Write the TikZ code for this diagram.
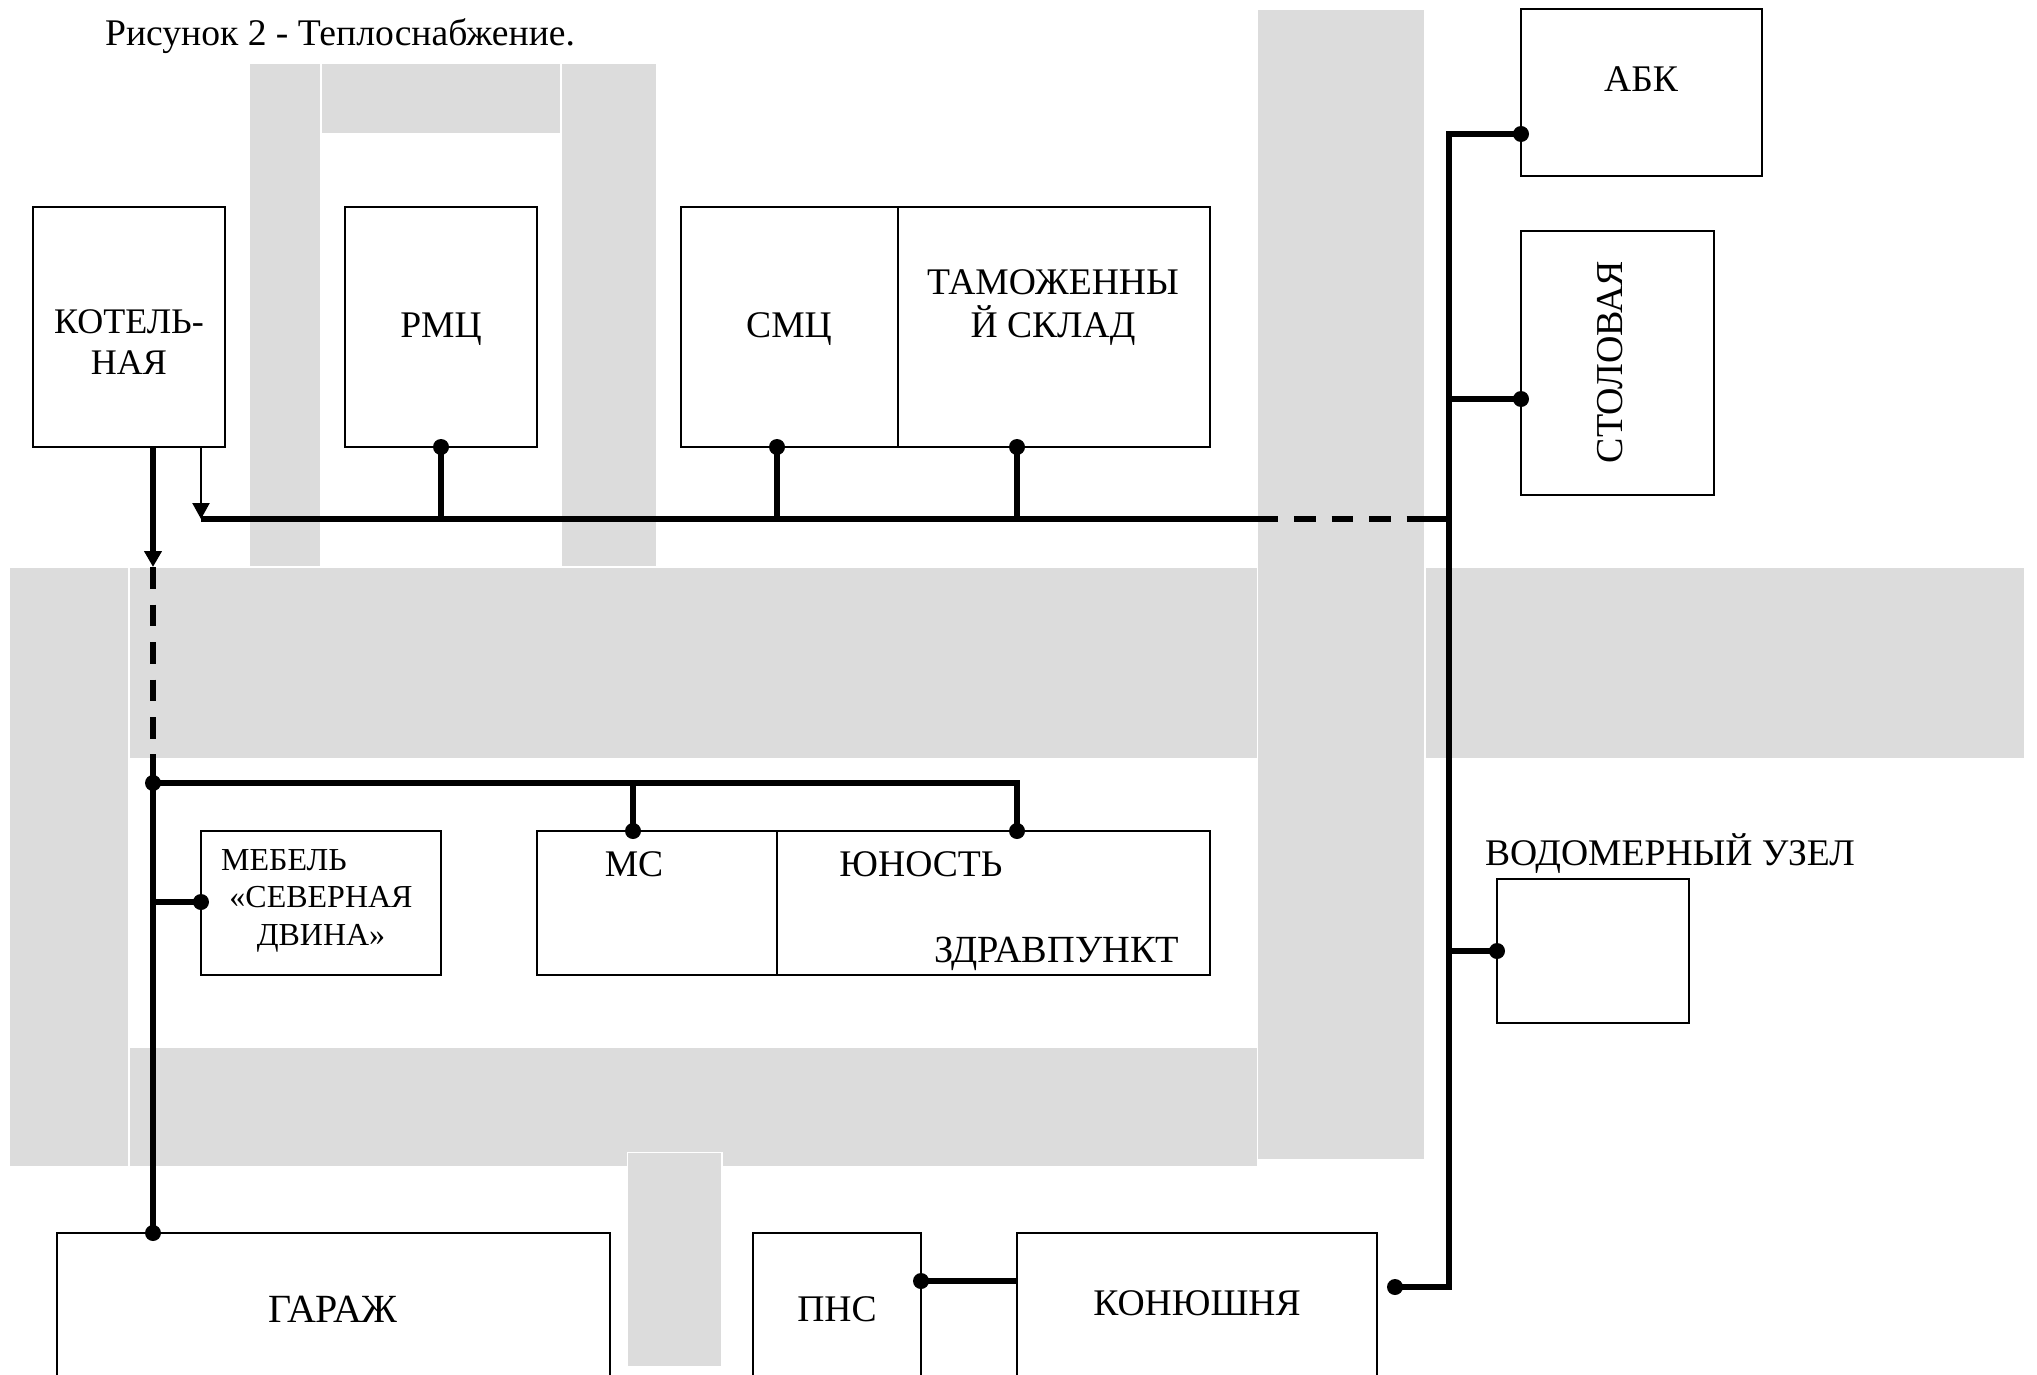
\documentclass[tikz,border=0pt]{standalone}
\usepackage{fontspec}
\setmainfont{Liberation Serif}
\usetikzlibrary{arrows.meta,calc}
\definecolor{road}{HTML}{DCDCDC}
\tikzset{
  x=1pt,y=-1pt,
  road/.style={fill=road,draw=none},
  roadw/.style={fill=road,draw=white,line width=1.5pt},
  bld/.style={draw=black,line width=2.4pt,fill=white,anchor=north west,inner sep=0pt,outer sep=0pt},
  lab/.style={font=\fontsize{37.6}{37.6}\selectfont,inner sep=0pt,text=black},
  labs/.style={font=\fontsize{32}{32}\selectfont,inner sep=0pt,text=black},
  pipe/.style={draw=black,line width=5.4pt},
  pipedash/.style={pipe,dash pattern=on 21.5pt off 16pt},
  pipedashb/.style={pipe,dash pattern=on 21.5pt off 16pt,dash phase=21.5pt},
  thin pipe/.style={draw=black,line width=2.4pt},
  tip/.style={-{Triangle[width=17pt,length=16pt]}},
  dot/.style={circle,fill=black,draw=none,minimum size=16pt,inner sep=0pt,outer sep=0pt},
}
\newcommand{\bldg}[5]{\node[bld,minimum width=#4pt,minimum height=#5pt] (#1) at (#2,#3) {};}
\begin{document}
\begin{tikzpicture}
\useasboundingbox (0,0) rectangle (2037,1375);
% roads
\path[road] (250,64) rectangle (320,566);
\path[road] (322,64) rectangle (560,133);
\path[road] (562,64) rectangle (656,566);
\path[road] (10,568) rectangle (128,1166);
\path[road] (130,568) rectangle (1257,758);
\path[road] (1258,10) rectangle (1424,1159);
\path[road] (1426,568) rectangle (2024,758);
\path[road] (130,1048) rectangle (1257,1166);
\path[roadw] (627.5,1152.5) rectangle (722,1367);
% buildings
\bldg{kot}{33}{207}{192}{240}
\bldg{rmc}{345}{207}{192}{240}
\bldg{smc}{681}{207}{217}{240}
\bldg{tam}{898}{207}{312}{240}
\bldg{abk}{1521}{9}{241}{167}
\bldg{sto}{1521}{231}{193}{264}
\bldg{meb}{201}{831}{240}{144}
\bldg{ms}{537}{831}{240}{144}
\bldg{yun}{777}{831}{433}{144}
\bldg{vod}{1497}{879}{192}{144}
\bldg{gar}{57}{1233}{553}{152}
\bldg{pns}{753}{1233}{168}{152}
\bldg{kon}{1017}{1233}{360}{152}
% labels
\node[lab,anchor=west] (title) at (105,36) {Рисунок 2 - Теплоснабжение.};
\node[lab,font=\fontsize{36}{36}\selectfont] (l1) at (129,322) {КОТЕЛЬ-};
\node[lab,font=\fontsize{36}{36}\selectfont] (l2) at (129,363) {НАЯ};
\node[lab] (l3) at (441,329) {РМЦ};
\node[lab] (l4) at (789,329) {СМЦ};
\node[lab] (l5) at (1053,282) {ТАМОЖЕННЫ};
\node[lab] (l6) at (1053,326) {Й СКЛАД};
\node[lab] (l7) at (1641,79) {АБК};
\node[lab,rotate=90,font=\fontsize{38}{38}\selectfont] (l8) at (1610,362) {СТОЛОВАЯ};
\node[lab] (l9) at (1670,854) {ВОДОМЕРНЫЙ УЗЕЛ};
\node[labs,anchor=west] (l10) at (221,860) {МЕБЕЛЬ};
\node[labs] (l11) at (321,897) {«СЕВЕРНАЯ};
\node[labs] (l12) at (321,938) {ДВИНА»};
\node[lab] (l13) at (634,864) {МС};
\node[lab] (l14) at (921,864) {ЮНОСТЬ};
\node[lab,font=\fontsize{38.4}{38.4}\selectfont] (l15) at (1057,954) {ЗДРАВПУНКТ};
\node[lab,font=\fontsize{40}{40}\selectfont] (l16) at (333,1309) {ГАРАЖ};
\node[lab] (l17) at (837,1309) {ПНС};
\node[lab] (l18) at (1197,1303) {КОНЮШНЯ};
% junctions
\coordinate (kotA) at (153,447);
\coordinate (kotB) at (201,447);
\coordinate (tipA) at (153,567);
\coordinate (tipB) at (201,519);
\coordinate (dashAend) at (153,754);
\coordinate (busDash1) at (1278,519);
\coordinate (busDash2) at (1407,519);
\coordinate (busEnd) at (1449,519);
\coordinate (mebJ) at (153,902);
\coordinate (r1) at (441,519);
\coordinate (r2) at (777,519);
\coordinate (r3) at (1017,519);
\coordinate (j2) at (633,783);
\coordinate (j3) at (1017,783);
\coordinate (vTop) at (1449,134);
\coordinate (vSto) at (1449,399);
\coordinate (vVod) at (1449,951);
\coordinate (vBot) at (1449,1287);
\node[dot] (dA) at (153,783) {};
\node[dot] (dGar) at (153,1233) {};
\node[dot] (dMeb) at (201,902) {};
\node[dot] (dMs) at (633,831) {};
\node[dot] (dYun) at (1017,831) {};
\node[dot] (dRmc) at (441,447) {};
\node[dot] (dSmc) at (777,447) {};
\node[dot] (dTam) at (1017,447) {};
\node[dot] (dAbk) at (1521,134) {};
\node[dot] (dSto) at (1521,399) {};
\node[dot] (dVod) at (1497,951) {};
\node[dot] (dKon) at (1395,1287) {};
\node[dot] (dPns) at (921,1281) {};
\coordinate (konL) at (1017,1281);
% connectors
\draw[pipe,tip] (kotA) -- (tipA);
\draw[pipedash] (tipA) -- (dashAend);
\draw[pipe] (dashAend) -- (dGar.center);
\draw[thin pipe,tip] (kotB) -- (tipB);
\draw[pipe] (tipB) -- (busDash1);
\draw[pipedashb] (busDash1) -- (busDash2);
\draw[pipe] (busDash2) -- (busEnd);
\draw[pipe] (r1) -- (dRmc.center);
\draw[pipe] (r2) -- (dSmc.center);
\draw[pipe] (r3) -- (dTam.center);
\draw[pipe] (dA.center) -- (j3) -- (dYun.center);
\draw[pipe] (j2) -- (dMs.center);
\draw[pipe] (mebJ) -- (dMeb.center);
\draw[pipe] (dAbk.center) -- (vTop) -- (vBot) -- (dKon.center);
\draw[pipe] (vSto) -- (dSto.center);
\draw[pipe] (vVod) -- (dVod.center);
\draw[pipe] (dPns.center) -- (konL);
\end{tikzpicture}
\end{document}
